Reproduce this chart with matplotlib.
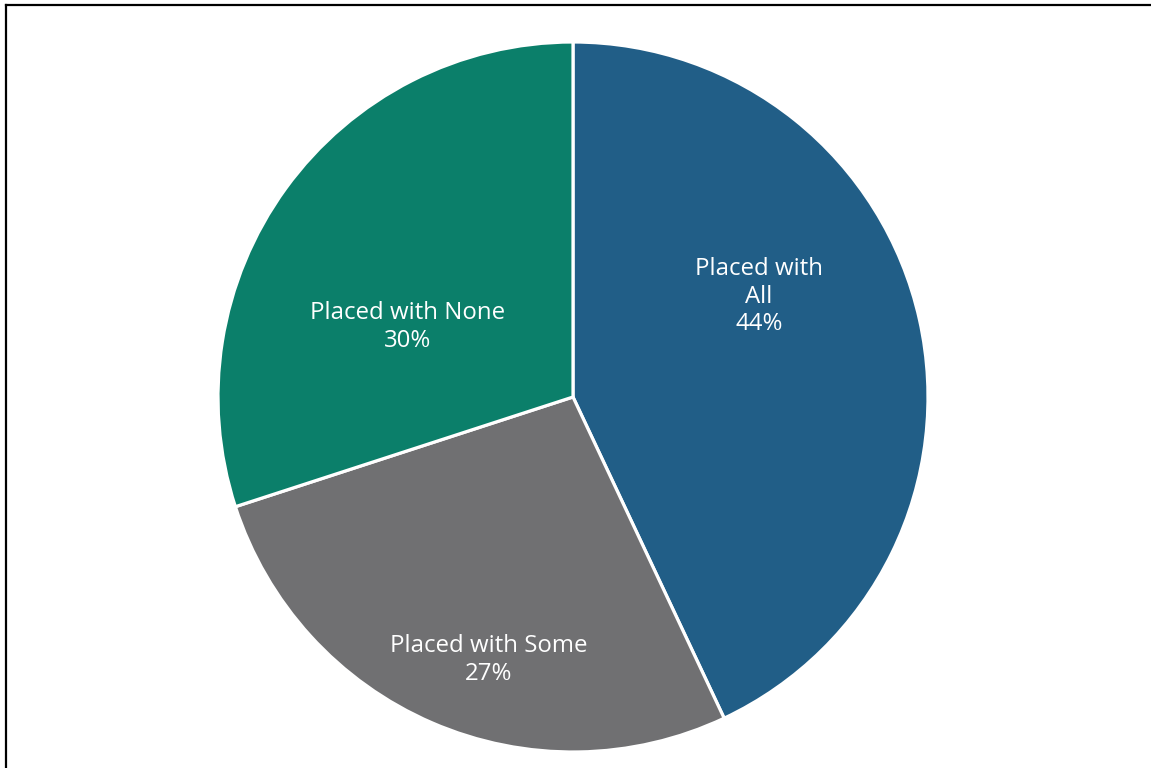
import matplotlib
matplotlib.use("Agg")
import matplotlib.pyplot as plt
from matplotlib.lines import Line2D

# slice data (clockwise from 12 o'clock)
categories = ["Placed with All", "Placed with Some", "Placed with None"]
shares = [43.0, 27.0, 30.0]
pct_labels = ["44%", "27%", "30%"]
label_text = ["Placed with\nAll", "Placed with Some", "Placed with None"]
colors = ["#215e87", "#707072", "#0b7f6a"]

# where each label sits, as (x, y) in units of the pie radius
label_pos = [(0.524, 0.282), (-0.237, -0.741), (-0.465, 0.197)]

W, H = 1151, 768
fig = plt.figure(figsize=(W / 100, H / 100), dpi=100)
fig.patch.set_facecolor("white")

# pie axes: centre at (573, 397) px, radius 355 px
cx, cy, r = 573, 397, 355
ax = fig.add_axes([(cx - r) / W, (H - cy - r) / H, 2 * r / W, 2 * r / H])
ax.pie(shares, colors=colors, startangle=90, counterclock=False, radius=1,
       wedgeprops=dict(edgecolor="white", linewidth=2.3))
ax.set_xlim(-1, 1)
ax.set_ylim(-1, 1)
ax.set_aspect("equal")
ax.axis("off")

for txt, pct, (lx, ly) in zip(label_text, pct_labels, label_pos):
    ax.text(lx, ly, txt + "\n" + pct, ha="center", va="center", color="white",
            fontsize=17.3, family=["Open Sans", "DejaVu Sans"], linespacing=1.2)

# frame: only the top and left edges show in the reference
fig.add_artist(Line2D([6 / W, 1], [1 - 4.5 / H, 1 - 4.5 / H], color="black", lw=1.6,
                      transform=fig.transFigure))
fig.add_artist(Line2D([6 / W, 6 / W], [0, 1 - 4.5 / H], color="black", lw=1.6,
                      transform=fig.transFigure))

fig.savefig("out.png", dpi=100)
